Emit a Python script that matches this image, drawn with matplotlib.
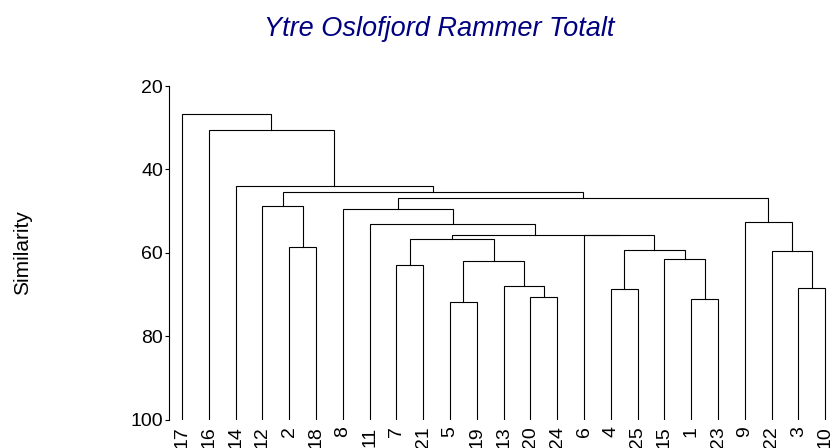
import matplotlib
matplotlib.use("Agg")
import matplotlib.pyplot as plt

plt.rcParams['font.family'] = ['Liberation Sans', 'DejaVu Sans']

title = "Ytre Oslofjord Rammer Totalt"
y_label = "Similarity"

# leaf order (left to right)
leaf_labels = ["17", "16", "14", "12", "2", "18", "8", "11", "7", "21", "5", "19",
               "13", "20", "24", "6", "4", "25", "15", "1", "23", "9", "22", "3", "10"]

# merges: node name, left child, right child, similarity level
merge_names = ["m0", "m1", "m2", "m3", "m4", "m5", "m6", "m7", "m8", "m9", "m10", "m11",
               "m12", "m13", "m14", "m15", "m16", "m17", "m18", "m19", "m20", "m21", "m22", "m23"]
merge_left = ["5", "1", "20", "4", "3", "13", "7", "m0", "15", "22", "m3", "2",
              "m6", "6", "m12", "11", "9", "8", "12", "m17", "m18", "14", "16", "17"]
merge_right = ["19", "23", "24", "25", "10", "m2", "21", "m5", "m1", "m4", "m8", "18",
               "m7", "m10", "m13", "m14", "m9", "m15", "m11", "m16", "m19", "m20", "m21", "m22"]
merge_sim = [71.8, 71.1, 70.6, 68.6, 68.5, 68.0, 63.0, 62.0, 61.4, 59.5, 59.3, 58.7,
             56.8, 55.85, 55.8, 53.0, 52.6, 49.5, 48.8, 46.8, 45.4, 43.9, 30.6, 26.6]

y_ticks = [20, 40, 60, 80, 100]

W, H = 833, 448
fig = plt.figure(figsize=(W / 100, H / 100), dpi=100)

left_px, right_px = 168.7, 833
top_px, bottom_px = 86, 419.5
ax = fig.add_axes([left_px / W, (H - bottom_px) / H,
                   (right_px - left_px) / W, (bottom_px - top_px) / H])

pos = {lab: i for i, lab in enumerate(leaf_labels)}
height = {lab: 100.0 for lab in leaf_labels}

lw = 0.8
for name, a, b, s in zip(merge_names, merge_left, merge_right, merge_sim):
    xa, xb = pos[a], pos[b]
    ax.plot([xa, xa, xb, xb], [height[a], s, s, height[b]],
            color='black', linewidth=lw, solid_joinstyle='miter')
    pos[name] = (xa + xb) / 2
    height[name] = s

ax.set_ylim(100, 20)
ax.set_xlim(-(182 - left_px) / 26.8, 24 + (833 - 825.2) / 26.8)

ax.set_yticks(y_ticks)
ax.set_yticklabels([str(t) for t in y_ticks], fontsize=14)
ax.tick_params(axis='y', direction='out', length=3, width=0.8, pad=1)

ax.set_xticks(range(len(leaf_labels)))
ax.set_xticklabels(leaf_labels, rotation=90, fontsize=14, va='top', ha='center')
ax.tick_params(axis='x', length=0, pad=5)

for sp in ['top', 'right', 'bottom']:
    ax.spines[sp].set_visible(False)
ax.spines['left'].set_linewidth(0.8)

fig.text(439 / W, 1 - 29 / H, title, fontsize=19.5, style='italic',
         color='#000080', ha='center', va='center')
fig.text(23 / W, 1 - 253 / H, y_label, fontsize=15, rotation=90,
         ha='center', va='center')

fig.savefig("out.png", dpi=100)
